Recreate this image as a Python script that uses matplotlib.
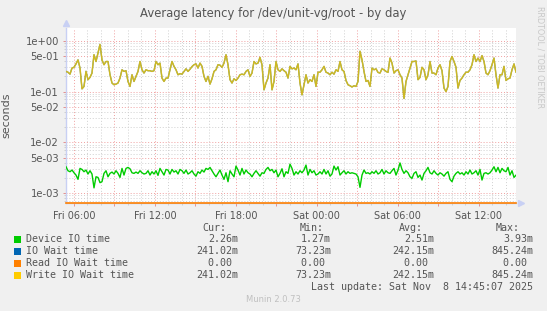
import numpy as np
import pandas as pd
import matplotlib
matplotlib.use('Agg')
import matplotlib.pyplot as plt
import matplotlib.dates as mdates
from matplotlib.ticker import FixedLocator, NullFormatter, FuncFormatter

W, H = 547, 311

# Device IO time (ms), every ~7.4 min
device_io_ms = [
    3.31, 2.76, 2.64, 2.85, 2.52, 2.27, 1.87, 3.07, 2.93, 2.64,
    2.85, 2.38, 2.76, 2.38, 1.27, 2.10, 2.04, 1.61, 1.68, 2.45,
    2.76, 2.10, 2.45, 2.60, 2.38, 2.76, 2.45, 2.04, 3.07, 2.27,
    3.07, 3.21, 3.02, 2.52, 2.45, 2.60, 2.45, 2.76, 2.52, 2.38,
    2.45, 2.76, 2.27, 2.64, 2.38, 2.76, 2.24, 3.07, 2.64, 2.27,
    2.93, 2.85, 2.38, 2.93, 2.60, 2.76, 2.38, 2.93, 2.76, 2.45,
    2.85, 2.38, 2.52, 2.76, 2.38, 2.16, 2.64, 2.45, 2.85, 2.60,
    3.07, 2.93, 3.21, 2.76, 2.38, 2.10, 2.45, 2.85, 2.27, 1.87,
    2.52, 1.68, 2.76, 2.38, 2.10, 3.41, 2.85, 2.27, 3.07, 2.38,
    2.85, 2.52, 2.38, 2.10, 2.45, 2.76, 2.45, 2.16, 2.52, 2.45,
    2.93, 3.21, 2.76, 2.93, 2.52, 2.85, 2.10, 2.45, 3.02, 2.10,
    2.64, 2.45, 3.73,
    3.07, 2.27, 2.64, 2.38, 2.76, 2.52, 2.85, 3.57, 2.27, 2.93,
    2.52, 2.76, 2.27, 2.38, 2.64, 2.38, 2.93, 2.38, 2.76, 2.16,
    2.38, 3.41, 2.85, 3.31, 2.27, 2.52, 2.76, 2.38, 2.64, 2.45,
    2.52, 2.45, 2.38, 2.10, 1.30, 2.27, 2.85, 2.45, 2.52, 2.38,
    2.64, 2.45, 2.76, 2.38, 2.52, 2.93, 2.38, 2.76, 2.52, 2.45,
    2.76, 3.07, 2.27, 2.85, 3.93, 2.93, 2.45, 2.76, 2.52, 2.10,
    1.95, 2.45, 2.64, 2.04, 2.27, 1.81, 2.45, 2.76, 3.21, 2.52,
    2.38, 2.76, 2.45, 2.27, 2.52, 2.38, 2.16, 2.45, 2.64, 1.87,
    1.68, 2.16, 2.45, 2.64, 2.38, 2.52, 2.27, 2.64, 2.38, 2.85,
    2.38, 2.52, 2.76, 2.27, 2.93, 1.81, 2.45, 2.52, 2.38, 2.52,
    2.85, 3.31, 2.64, 3.21, 2.52, 3.07, 2.76, 2.64, 3.21, 2.27,
    2.76, 2.04, 2.26,
]

# Write IO wait time (ms)
write_wait_ms = [
    249, 240, 220, 290, 300, 350, 420, 290, 113, 126,
    250, 171, 190, 231, 530, 390, 570, 845, 420, 337,
    390, 390, 214, 147, 136, 140, 147, 184, 268, 249,
    257, 158, 126, 214, 158, 199, 249, 390, 268, 231,
    268, 257, 257, 249, 257, 390, 337, 363, 184, 158,
    184, 184, 268, 390, 313, 268, 214,
    225, 220, 249, 280, 249, 275, 310, 337, 350, 290,
    363, 313, 199, 158, 199, 140, 178, 249, 268, 337,
    330, 300, 363, 530, 337, 171, 147, 178, 165, 184,
    214, 220, 214, 249, 268, 199, 231, 390, 350, 363,
    470, 337, 108, 147, 184, 337, 108, 158, 390, 268,
    249, 280, 257, 240, 184, 313, 280, 290, 268,
    350, 147, 86, 136, 214, 147, 171, 158, 214, 126,
    240, 240, 268, 313, 240, 231, 214, 240, 220, 268,
    249, 390, 268, 249, 165, 136, 130, 123, 130, 126,
    158, 620, 420, 249, 158, 165, 126, 290, 268, 280,
    238, 231, 280, 268, 249, 238, 456, 363, 231, 257,
    268, 214, 184, 73,
    158, 214, 290, 390, 390, 400, 171, 190, 300, 268,
    171, 214, 390, 231, 231, 214, 290, 337, 257, 117,
    100, 126, 390, 490, 390, 300, 117, 165, 184, 214,
    240, 240, 268, 337, 530, 390, 456, 390, 510, 390,
    231, 214, 257, 337, 456, 214, 117, 214, 214, 313,
    165, 178, 184, 268, 350, 241,
]
io_wait_ms = list(write_wait_ms)        # IO wait == write IO wait here
read_wait_ms = [0.0] * len(write_wait_ms)

t_start = '2025-11-07 05:25'
t_end = '2025-11-08 14:45'

names = ['Device IO time', 'IO Wait time', 'Read IO Wait time', 'Write IO Wait time']
colors = ['#00CC00', '#0066B3', '#FF8000', '#FFCC00']
cur_vals = ['2.26m', '241.02m', '0.00 ', '241.02m']
min_vals = ['1.27m', '73.23m', '0.00 ', '73.23m']
avg_vals = ['2.51m', '242.15m', '0.00 ', '242.15m']
max_vals = ['3.93m', '845.24m', '0.00 ', '845.24m']

y_ticks = [1e-3, 5e-3, 1e-2, 5e-2, 1e-1, 5e-1, 1.0]
y_ticklabels = ['1e-03', '5e-03', '1e-02', '5e-02', '1e-01', '5e-01', '1e+00']

txt = '#555555'
red_grid = '#F0A0A0'
grey_grid = '#D0D0D0'

fig = plt.figure(figsize=(W / 100, H / 100), dpi=100, facecolor='#F0F0F0')
ax = fig.add_axes([66 / W, 1 - 203 / H, 450 / W, 175 / H])
ax.set_facecolor('white')

times = pd.date_range(t_start, t_end, periods=len(write_wait_ms))
ylo, yhi = 6.4e-4, 1.78
ax.set_yscale('log')
ax.set_ylim(ylo, yhi)
ax.set_xlim(times[0], times[-1])

ax.plot(times, np.array(device_io_ms) / 1000, color=colors[0], lw=1.0, zorder=3)
ax.plot(times, np.array(io_wait_ms) / 1000, color=colors[1], lw=0.9, zorder=3)
ax.plot(times, np.clip(np.array(read_wait_ms) / 1000, ylo, None), color=colors[2],
        lw=1.2, zorder=4, clip_on=False)
# write wait sits on top of IO wait (same values)
ax.plot(times, np.array(write_wait_ms) / 1000, color=colors[3], lw=1.1, alpha=0.8, zorder=3.1)

# grid
ax.set_yticks(y_ticks)
ax.set_yticklabels(y_ticklabels)
minor_y = [m * 10.0 ** e for e in range(-4, 1) for m in (2, 3, 4, 6, 7, 8, 9)]
ax.yaxis.set_minor_locator(FixedLocator(minor_y))
ax.yaxis.set_minor_formatter(NullFormatter())

ax.xaxis.set_major_locator(mdates.HourLocator(byhour=range(0, 24, 3)))
ax.xaxis.set_minor_locator(mdates.HourLocator())
ax.xaxis.set_major_formatter(FuncFormatter(
    lambda v, p: mdates.num2date(v).strftime('%a %H:%M') if mdates.num2date(v).hour % 6 == 0 else ''))

ax.grid(True, which='major', color=red_grid, lw=0.7, ls=(0, (1, 2)), zorder=1)
ax.grid(True, which='minor', color=grey_grid, lw=0.7, ls=(0, (1, 2)), zorder=1)

ax.tick_params(which='major', length=2, width=0.6, color='#E08080', labelsize=7.2,
               labelcolor=txt, pad=3)
ax.tick_params(which='minor', length=1.5, width=0.5, color='#C0C0C0')
ax.tick_params(axis='x', pad=4, labelsize=7)

for s in ['top', 'right']:
    ax.spines[s].set_visible(False)
for s in ['left', 'bottom']:
    ax.spines[s].set_color('#C8D0F4')
    ax.spines[s].set_linewidth(1)
ax.plot([1.01], [0], marker='>', ms=4, color='#C8D0F4', transform=ax.transAxes, clip_on=False)
ax.plot([0], [1.03], marker='^', ms=4, color='#C8D0F4', transform=ax.transAxes, clip_on=False)

ax.set_ylabel('seconds', fontsize=8, color=txt)
ax.yaxis.set_label_coords(-55 / 450, 0.5)


def ftext(x, y, s, **kw):
    fig.text(x / W, 1 - y / H, s, **kw)


ftext(273.5, 14, 'Average latency for /dev/unit-vg/root - by day', ha='center', va='center',
      fontsize=8.4, color=txt)
ftext(540, 6, 'RRDTOOL / TOBI OETIKER', rotation=270, ha='center', va='top',
      fontsize=5.8, color='#C8C8C8')

mono = 'DejaVu Sans Mono'
fs = 7.2
cols = [238, 331, 434, 533]
heads = ['Cur:', 'Min:', 'Avg:', 'Max:']
head_ends = [226, 324, 423, 520]
for he, h in zip(head_ends, heads):
    ftext(he, 228, h, ha='right', va='center', family=mono, fontsize=fs, color=txt)

rows_y = [239.5, 251.5, 263.5, 275.5]
for i, (name, c) in enumerate(zip(names, colors)):
    y = rows_y[i]
    fig.patches.append(plt.Rectangle((14 / W, 1 - (y + 3.5) / H), 7 / W, 7 / H,
                                     transform=fig.transFigure, facecolor=c, edgecolor='none'))
    ftext(26, y, name, ha='left', va='center', family=mono, fontsize=fs, color=txt)
    for ce, vals in zip(cols, [cur_vals, min_vals, avg_vals, max_vals]):
        ftext(ce, y, vals[i], ha='right', va='center', family=mono, fontsize=fs, color=txt)

ftext(533, 287.5, 'Last update: Sat Nov  8 14:45:07 2025', ha='right', va='center',
      family=mono, fontsize=fs, color=txt)
ftext(273.5, 300, 'Munin 2.0.73', ha='center', va='center', fontsize=6, color='#C0C0C0')

fig.savefig('out.png', dpi=100, facecolor=fig.get_facecolor())
